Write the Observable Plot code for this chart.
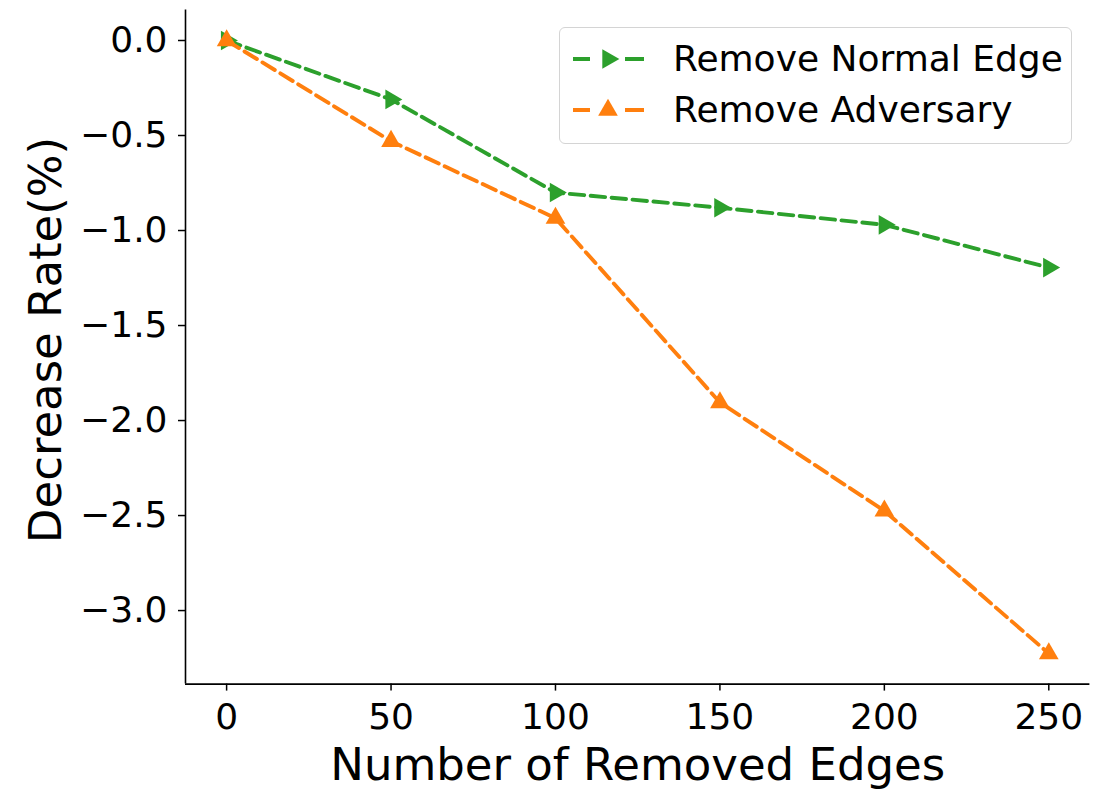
<!DOCTYPE html>
<html>
<head>
<meta charset="utf-8">
<script src="https://cdn.jsdelivr.net/npm/d3@7"></script>
<script src="https://cdn.jsdelivr.net/npm/@observablehq/plot@0.6"></script>
<style>
  html, body { margin: 0; padding: 0; background: white; }
  #wrap { position: relative; width: 1102px; height: 790px; font-family: "DejaVu Sans", sans-serif; }
  #legend { position: absolute; left: 559px; top: 27px; width: 513px; height: 117px;
            border: 1.5px solid #d4d4d4; border-radius: 6px; background: rgba(255,255,255,0.8); box-sizing: border-box; }
  .row { position: absolute; left: 0; height: 40px; }
  .row svg { position: absolute; left: 13px; top: 0; }
  .row span { position: absolute; left: 113px; font-size: 36px; white-space: nowrap; line-height: 40px; top: 0; color: black; }
</style>
</head>
<body>
<div id="wrap"></div>
<script>
// Data
const removedEdges = [0, 50, 100, 150, 200, 250];
const removeNormalEdge = [0, -0.31, -0.80, -0.88, -0.97, -1.195];
const removeAdversary = [0, -0.53, -0.935, -1.905, -2.475, -3.226];
const xTicks = [0, 50, 100, 150, 200, 250];
const yTicks = [0, -0.5, -1.0, -1.5, -2.0, -2.5, -3.0];
const seriesNames = ["Remove Normal Edge", "Remove Adversary"];
const seriesColors = ["#2ca02c", "#ff7f0e"];

const normalData = removedEdges.map((x, i) => ({x, y: removeNormalEdge[i]}));
const advData = removedEdges.map((x, i) => ({x, y: removeAdversary[i]}));

const xDomain = [-12.5, 262.5];
const yDomain = [-3.387, 0.161];

const dash = "14.5,6.5";
const lw = 3.9;
const mr = 7.3;

const chart = Plot.plot({
  width: 1102,
  height: 790,
  marginLeft: 185,
  marginRight: 12.6,
  marginTop: 9.4,
  marginBottom: 106.4,
  style: {fontFamily: "DejaVu Sans", background: "white", color: "black", overflow: "visible"},
  x: {domain: xDomain},
  y: {domain: yDomain},
  marks: [
    Plot.axisX({ticks: xTicks, tickSize: 7, tickPadding: 12, fontSize: 36, strokeWidth: 1.5, label: null, tickFormat: d => String(d)}),
    Plot.axisY({ticks: yTicks, tickSize: 7, tickPadding: 11, fontSize: 36, strokeWidth: 1.5, label: null, tickFormat: d3.format(".1f")}),
    Plot.ruleX([xDomain[0]], {stroke: "black", strokeWidth: 1.6}),
    Plot.ruleY([yDomain[0]], {stroke: "black", strokeWidth: 1.6}),
    Plot.text(["Number of Removed Edges"], {frameAnchor: "bottom", textAnchor: "middle", lineAnchor: "middle", dy: 81, fontSize: 45, fill: "black"}),
    Plot.text(["Decrease Rate(%)"], {frameAnchor: "left", textAnchor: "middle", lineAnchor: "middle", dx: -139, dy: -7, rotate: -90, fontSize: 45, fill: "black"}),
    Plot.line(normalData, {x: "x", y: "y", stroke: seriesColors[0], strokeWidth: lw, strokeDasharray: dash}),
    Plot.dot(normalData, {x: "x", y: "y", symbol: "triangle", rotate: 90, r: mr, fill: seriesColors[0], stroke: "none"}),
    Plot.line(advData, {x: "x", y: "y", stroke: seriesColors[1], strokeWidth: lw, strokeDasharray: dash}),
    Plot.dot(advData, {x: "x", y: "y", symbol: "triangle", r: mr, fill: seriesColors[1], stroke: "none"})
  ]
});

const wrap = document.getElementById("wrap");
wrap.appendChild(chart);

// Legend
const legend = document.createElement("div");
legend.id = "legend";
const rowTops = [11, 62];
const symbolPath = d3.symbol(d3.symbolTriangle, mr * mr * Math.PI)();
seriesNames.forEach((name, i) => {
  const row = document.createElement("div");
  row.className = "row";
  row.style.top = rowTops[i] + "px";
  row.style.width = "100%";
  const svg = d3.create("svg").attr("width", 75).attr("height", 40);
  svg.append("line").attr("x1", 0).attr("x2", 71).attr("y1", 20).attr("y2", 20)
    .attr("stroke", seriesColors[i]).attr("stroke-width", lw).attr("stroke-dasharray", "17,35,19");
  svg.append("path").attr("d", symbolPath)
    .attr("transform", `translate(35,20) rotate(${i === 0 ? 90 : 0})`)
    .attr("fill", seriesColors[i]);
  row.appendChild(svg.node());
  const span = document.createElement("span");
  span.textContent = name;
  row.appendChild(span);
  legend.appendChild(row);
});
wrap.appendChild(legend);
</script>
</body>
</html>
